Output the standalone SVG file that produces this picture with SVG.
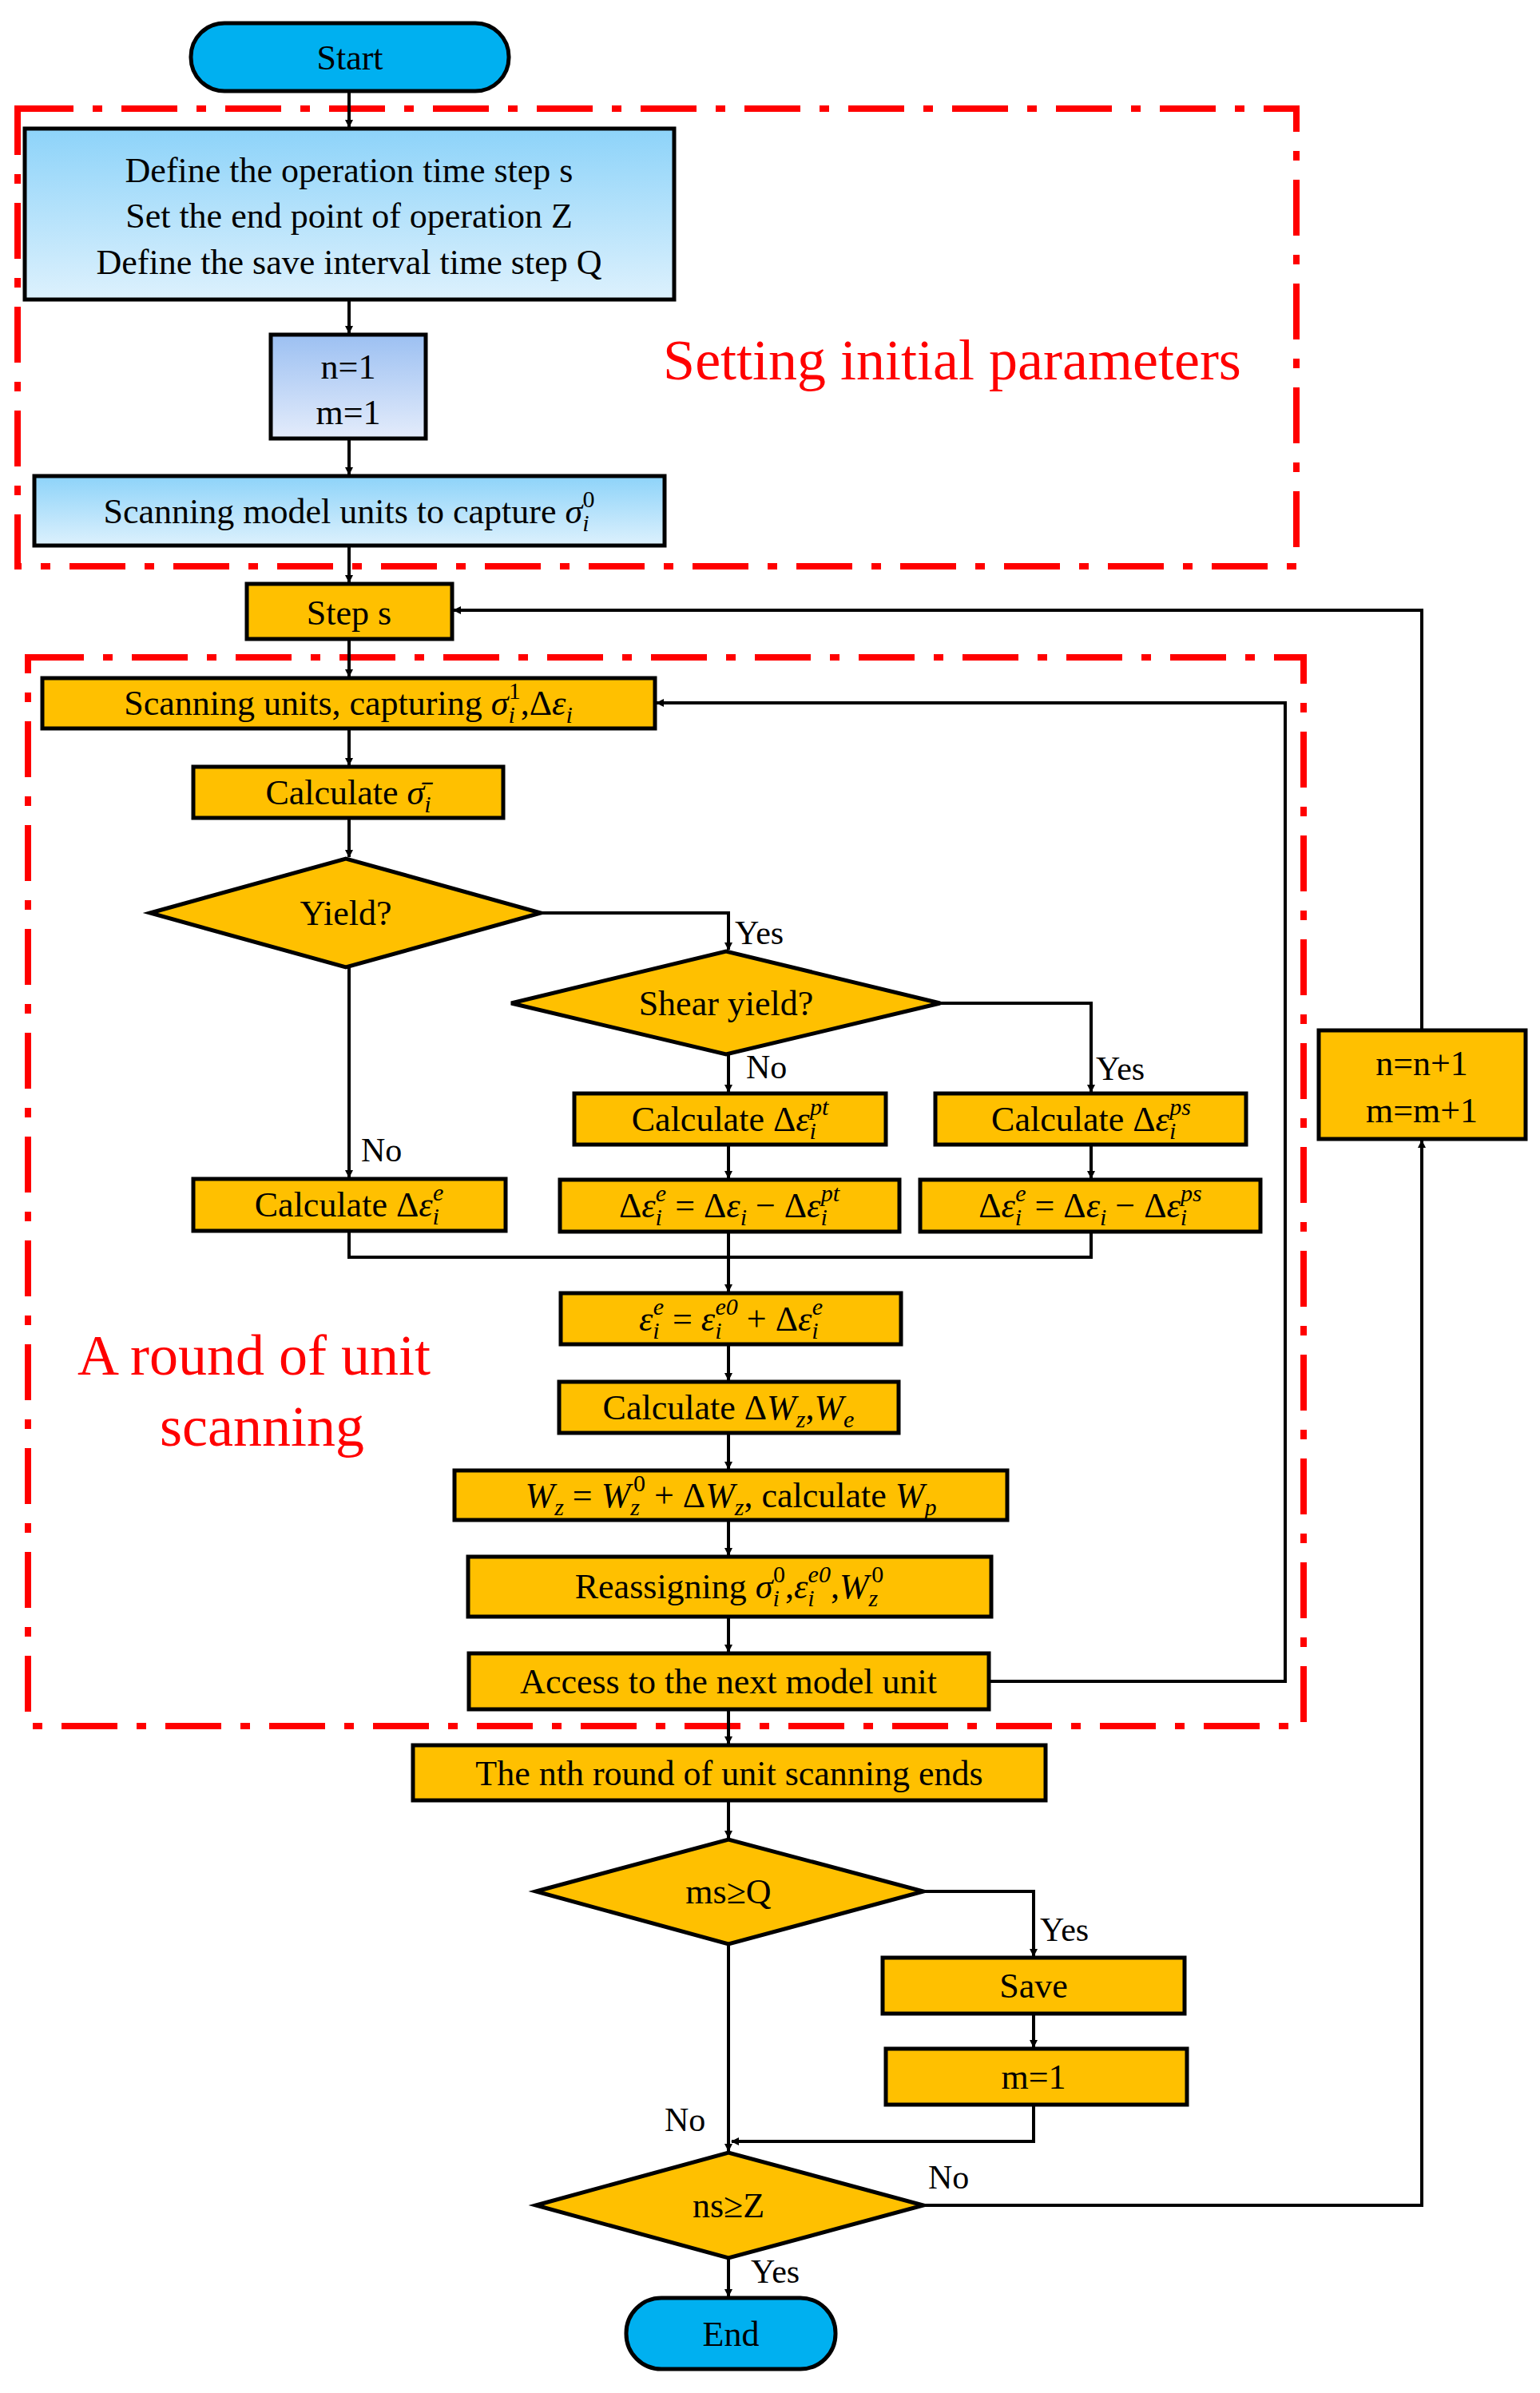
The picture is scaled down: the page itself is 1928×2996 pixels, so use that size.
<svg xmlns="http://www.w3.org/2000/svg" width="1928" height="2996" viewBox="0 0 1928 2996">
<style>
.o{fill:#FFC000;stroke:#000;stroke-width:5}
.t{font-family:"Liberation Serif",serif;font-size:44px;text-anchor:middle;fill:#000}
.m{font-style:italic}
.s{font-size:30px}
.r{font-family:"Liberation Serif",serif;font-size:72px;fill:#FF0000}
.dd{fill:none;stroke:#FF0000;stroke-width:8;stroke-dasharray:70 24 12 24}
.c{fill:none;stroke:#000;stroke-width:4}
.l{font-family:"Liberation Serif",serif;font-size:42px;fill:#000}
</style>
<defs>
<linearGradient id="g1" x1="0" y1="0" x2="0" y2="1"><stop offset="0" stop-color="#8DD3F9"/><stop offset="1" stop-color="#DDF1FD"/></linearGradient>
<linearGradient id="g2" x1="0" y1="0" x2="0" y2="1"><stop offset="0" stop-color="#9CC0F2"/><stop offset="1" stop-color="#E4ECFB"/></linearGradient>
<marker id="a" markerWidth="10" markerHeight="10" refX="9" refY="5" orient="auto" markerUnits="userSpaceOnUse" viewBox="0 0 10 10"><path d="M0,0 L10,5 L0,10 z" fill="#000"/></marker>
</defs>
<rect class="dd" x="22" y="136" width="1601" height="573"/>
<rect class="dd" x="35" y="823" width="1597" height="1338"/>
<text class="r" x="1192" y="475" text-anchor="middle">Setting initial parameters</text>
<text class="r" x="318" y="1721" text-anchor="middle">A round of unit</text>
<text class="r" x="328" y="1810" text-anchor="middle">scanning</text>
<g id="connectors" class="c">
<path d="M437,114 V159" marker-end="url(#a)"/>
<path d="M437,375 V417" marker-end="url(#a)"/>
<path d="M437,549 V594" marker-end="url(#a)"/>
<path d="M437,683 V729" marker-end="url(#a)"/>
<path d="M437,800 V847" marker-end="url(#a)"/>
<path d="M437,912 V958" marker-end="url(#a)"/>
<path d="M437,1024 V1073" marker-end="url(#a)"/>
<path d="M677,1143 H912 V1189" marker-end="url(#a)"/>
<path d="M437,1211 V1474" marker-end="url(#a)"/>
<path d="M912,1320 V1367" marker-end="url(#a)"/>
<path d="M1177,1256 H1366 V1367" marker-end="url(#a)"/>
<path d="M912,1433 V1475" marker-end="url(#a)"/>
<path d="M1366,1433 V1475" marker-end="url(#a)"/>
<path d="M437,1541 V1574 H1366 V1542"/>
<path d="M912,1542 V1617" marker-end="url(#a)"/>
<path d="M912,1683 V1728" marker-end="url(#a)"/>
<path d="M912,1794 V1839" marker-end="url(#a)"/>
<path d="M912,1903 V1947" marker-end="url(#a)"/>
<path d="M912,2024 V2068" marker-end="url(#a)"/>
<path d="M1238,2105 H1609 V880 H822" marker-end="url(#a)"/>
<path d="M912,2140 V2183" marker-end="url(#a)"/>
<path d="M912,2254 V2301" marker-end="url(#a)"/>
<path d="M1156,2368 H1294 V2449" marker-end="url(#a)"/>
<path d="M1294,2521 V2563" marker-end="url(#a)"/>
<path d="M1294,2635 V2681 H916" marker-end="url(#a)"/>
<path d="M912,2434 V2693" marker-end="url(#a)"/>
<path d="M1156,2761 H1780 V1428" marker-end="url(#a)"/>
<path d="M1780,1290 V764 H568" marker-end="url(#a)"/>
<path d="M912,2827 V2875" marker-end="url(#a)"/>
</g>
<g id="labels">
<text class="l" x="920" y="1182">Yes</text>
<text class="l" x="934" y="1350">No</text>
<text class="l" x="1372" y="1352">Yes</text>
<text class="l" x="452" y="1454">No</text>
<text class="l" x="1302" y="2430">Yes</text>
<text class="l" x="832" y="2668">No</text>
<text class="l" x="1162" y="2740">No</text>
<text class="l" x="940" y="2858">Yes</text>
</g>
<g id="start"><rect x="239" y="29" width="398" height="85" rx="42" fill="#00B0F0" stroke="#000" stroke-width="5"/><text class="t" x="438" y="87">Start</text></g>
<g id="define"><rect x="31" y="161" width="813" height="214" fill="url(#g1)" stroke="#000" stroke-width="5"/>
<text class="t" x="437" y="228">Define the operation time step s</text>
<text class="t" x="437" y="285">Set the end point of operation Z</text>
<text class="t" x="437" y="343">Define the save interval time step Q</text></g>
<g id="nm"><rect x="339" y="419" width="194" height="130" fill="url(#g2)" stroke="#000" stroke-width="5"/>
<text class="t" x="436" y="474">n=1</text><text class="t" x="436" y="531">m=1</text></g>
<g id="scan0"><rect x="43" y="596" width="789" height="87" fill="url(#g1)" stroke="#000" stroke-width="5"/>
<text class="t" x="437" y="655">Scanning model units to capture <tspan class="m">σ</tspan><tspan class="m s" dy="10">i</tspan><tspan class="s" dx="-8" dy="-30">0</tspan></text></g>
<g id="step"><rect class="o" x="309" y="731" width="257" height="69"/><text class="t" x="437" y="782">Step s</text></g>
<g id="scan1"><rect class="o" x="53" y="849" width="767" height="63"/>
<text class="t" x="436" y="895">Scanning units, capturing <tspan class="m">σ</tspan><tspan class="m s" dy="10">i</tspan><tspan class="s" dx="-8" dy="-30">1</tspan><tspan dy="20">,Δ</tspan><tspan class="m">ε</tspan><tspan class="m s" dy="10">i</tspan></text></g>
<g id="calcsig"><rect class="o" x="242" y="960" width="388" height="64"/>
<text class="t" x="436" y="1007">Calculate <tspan class="m">σ̄</tspan><tspan class="m s" dy="10">i</tspan></text></g>
<g id="yield"><polygon class="o" points="188,1143 433,1075 677,1143 433,1211"/><text class="t" x="433" y="1158">Yield?</text></g>
<g id="shear"><polygon class="o" points="640,1256 909,1191 1177,1256 909,1320"/><text class="t" x="909" y="1271">Shear yield?</text></g>
<g id="calcpt"><rect class="o" x="719" y="1369" width="390" height="64"/>
<text class="t" x="914" y="1416">Calculate Δ<tspan class="m">ε</tspan><tspan class="m s" dy="10">i</tspan><tspan class="m s" dx="-8" dy="-30">pt</tspan></text></g>
<g id="calcps"><rect class="o" x="1171" y="1369" width="389" height="64"/>
<text class="t" x="1366" y="1416">Calculate Δ<tspan class="m">ε</tspan><tspan class="m s" dy="10">i</tspan><tspan class="m s" dx="-8" dy="-30">ps</tspan></text></g>
<g id="calce"><rect class="o" x="242" y="1476" width="391" height="65"/>
<text class="t" x="437" y="1523">Calculate Δ<tspan class="m">ε</tspan><tspan class="m s" dy="10">i</tspan><tspan class="m s" dx="-8" dy="-30">e</tspan></text></g>
<g id="eqpt"><rect class="o" x="701" y="1477" width="425" height="65"/>
<text class="t" x="913" y="1524">Δ<tspan class="m">ε</tspan><tspan class="m s" dy="10">i</tspan><tspan class="m s" dx="-8" dy="-30">e</tspan><tspan dy="20"> = Δ</tspan><tspan class="m">ε</tspan><tspan class="m s" dy="10">i</tspan><tspan dy="-10"> − Δ</tspan><tspan class="m">ε</tspan><tspan class="m s" dy="10">i</tspan><tspan class="m s" dx="-8" dy="-30">pt</tspan></text></g>
<g id="eqps"><rect class="o" x="1152" y="1477" width="426" height="65"/>
<text class="t" x="1365" y="1524">Δ<tspan class="m">ε</tspan><tspan class="m s" dy="10">i</tspan><tspan class="m s" dx="-8" dy="-30">e</tspan><tspan dy="20"> = Δ</tspan><tspan class="m">ε</tspan><tspan class="m s" dy="10">i</tspan><tspan dy="-10"> − Δ</tspan><tspan class="m">ε</tspan><tspan class="m s" dy="10">i</tspan><tspan class="m s" dx="-8" dy="-30">ps</tspan></text></g>
<g id="eps"><rect class="o" x="702" y="1619" width="426" height="64"/>
<text class="t" x="915" y="1666"><tspan class="m">ε</tspan><tspan class="m s" dy="10">i</tspan><tspan class="m s" dx="-8" dy="-30">e</tspan><tspan dy="20"> = </tspan><tspan class="m">ε</tspan><tspan class="m s" dy="10">i</tspan><tspan class="m s" dx="-8" dy="-30">e0</tspan><tspan dy="20"> + Δ</tspan><tspan class="m">ε</tspan><tspan class="m s" dy="10">i</tspan><tspan class="m s" dx="-8" dy="-30">e</tspan></text></g>
<g id="calcw"><rect class="o" x="700" y="1730" width="425" height="64"/>
<text class="t" x="912" y="1777">Calculate Δ<tspan class="m">W</tspan><tspan class="m s" dy="10">z</tspan><tspan dy="-10">,</tspan><tspan class="m">W</tspan><tspan class="m s" dy="10">e</tspan></text></g>
<g id="wz"><rect class="o" x="569" y="1841" width="692" height="62"/>
<text class="t" x="915" y="1887"><tspan class="m">W</tspan><tspan class="m s" dy="10">z</tspan><tspan dy="-10"> = </tspan><tspan class="m">W</tspan><tspan class="m s" dy="10">z</tspan><tspan class="s" dx="-8" dy="-30">0</tspan><tspan dy="20"> + Δ</tspan><tspan class="m">W</tspan><tspan class="m s" dy="10">z</tspan><tspan dy="-10">, calculate </tspan><tspan class="m">W</tspan><tspan class="m s" dy="10">p</tspan></text></g>
<g id="reassign"><rect class="o" x="586" y="1949" width="655" height="75"/>
<text class="t" x="913" y="2001">Reassigning <tspan class="m">σ</tspan><tspan class="m s" dy="10">i</tspan><tspan class="s" dx="-8" dy="-30">0</tspan><tspan dy="20">,</tspan><tspan class="m">ε</tspan><tspan class="m s" dy="10">i</tspan><tspan class="m s" dx="-8" dy="-30">e0</tspan><tspan dy="20">,</tspan><tspan class="m">W</tspan><tspan class="m s" dy="10">z</tspan><tspan class="s" dx="-8" dy="-30">0</tspan></text></g>
<g id="access"><rect class="o" x="587" y="2070" width="651" height="70"/><text class="t" x="912" y="2120">Access to the next model unit</text></g>
<g id="nth"><rect class="o" x="517" y="2185" width="792" height="69"/><text class="t" x="913" y="2235">The nth round of unit scanning ends</text></g>
<g id="msq"><polygon class="o" points="671,2368 912,2303 1156,2368 912,2434"/><text class="t" x="912" y="2383">ms≥Q</text></g>
<g id="save"><rect class="o" x="1105" y="2451" width="378" height="70"/><text class="t" x="1294" y="2501">Save</text></g>
<g id="m1"><rect class="o" x="1109" y="2565" width="377" height="70"/><text class="t" x="1294" y="2615">m=1</text></g>
<g id="nsz"><polygon class="o" points="671,2761 912,2695 1156,2761 912,2827"/><text class="t" x="912" y="2776">ns≥Z</text></g>
<g id="nn"><rect class="o" x="1651" y="1290" width="259" height="136"/><text class="t" x="1780" y="1346">n=n+1</text><text class="t" x="1780" y="1405">m=m+1</text></g>
<g id="end"><rect x="784" y="2877" width="262" height="89" rx="44" fill="#00B0F0" stroke="#000" stroke-width="5"/><text class="t" x="915" y="2937">End</text></g>
</svg>
